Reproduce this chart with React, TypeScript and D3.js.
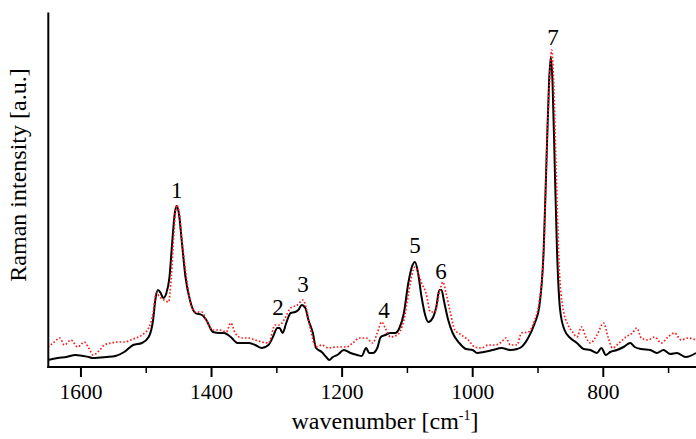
import React from "react";
import * as d3 from "d3";

// wavenumber [cm-1] and intensity [a.u.]
const blackWave = [1650.6,1635.7,1622.1,1608.5,1588.1,1581.3,1560.9,1547.3,1533.7,1520.1,1506.5,1496.3,1489.5,1486.1,1482.0,1477.9,1473.9,1469.1,1464.4,1460.3,1456.2,1453.5,1450.1,1445.3,1439.9,1433.1,1424.9,1414.8,1408.0,1397.8,1387.6,1380.8,1370.6,1360.3,1343.4,1333.2,1323.0,1312.8,1306.0,1299.2,1295.8,1291.0,1285.6,1278.8,1272.0,1267.2,1261.8,1256.3,1251.6,1244.8,1240.0,1231.2,1224.4,1219.7,1214.2,1207.4,1197.2,1187.0,1176.8,1170.0,1163.2,1158.5,1153.0,1146.2,1140.8,1134.0,1125.8,1119.0,1112.2,1105.4,1098.6,1093.2,1088.4,1083.7,1078.3,1072.8,1068.1,1061.3,1055.8,1051.1,1047.7,1044.3,1037.5,1030.7,1020.5,1010.3,1000.1,993.3,983.1,969.4,955.9,942.3,932.1,925.3,915.1,904.9,898.1,891.3,886.5,883.1,880.4,877.7,874.3,870.9,866.1,859.4,850.5,840.3,830.1,819.9,809.7,802.9,796.1,789.4,779.1,768.9,758.7,751.9,741.8,728.1,718.0,707.8,697.5,687.4,673.8,658.1];
const blackInt = [7,9,10,12,10,9,10,11,15,22,24,30,47,67,77,74,69,74,90,124,154,161,154,124,90,67,54,52,47,35,34,34,30,24,24,22,19,22,30,39,39,34,44,54,55,57,62,59,47,34,19,15,10,7,10,12,17,14,12,11,19,14,14,19,30,32,34,34,39,54,84,100,105,94,70,52,45,49,60,77,77,67,47,34,24,18,17,14,15,17,19,17,18,20,29,44,60,117,217,284,310,284,200,117,57,37,29,24,18,17,14,19,12,15,17,20,24,20,18,17,14,17,13,14,10,14];

const redWave = [1650.6,1642.5,1632.3,1625.5,1615.3,1605.1,1594.9,1588.1,1581.3,1571.1,1564.3,1554.1,1543.9,1533.7,1520.1,1506.5,1496.3,1489.5,1484.8,1479.3,1472.5,1465.7,1461.7,1457.6,1453.5,1449.4,1445.3,1439.9,1433.1,1424.9,1414.8,1408.0,1397.8,1387.6,1377.4,1370.6,1363.8,1353.6,1343.4,1333.2,1323.0,1312.8,1302.6,1295.8,1289.0,1278.8,1268.6,1259.8,1255.0,1248.2,1240.0,1231.2,1221.0,1207.4,1193.8,1183.6,1173.4,1163.2,1153.0,1146.2,1139.4,1134.0,1125.8,1115.6,1105.4,1098.6,1093.2,1088.4,1083.7,1078.3,1071.5,1064.7,1057.9,1051.1,1045.6,1040.9,1034.1,1027.3,1017.1,1006.9,996.7,986.5,976.3,966.1,955.9,949.1,942.3,932.1,925.3,915.1,904.9,898.1,891.3,886.5,882.5,879.0,875.7,872.3,867.5,862.1,853.9,847.1,840.3,833.5,826.7,819.9,809.7,799.5,792.7,785.9,775.7,765.5,755.4,748.6,741.8,731.5,721.3,711.2,700.9,690.8,680.6,670.4,658.1];
const redInt = [20,24,29,22,27,20,25,19,12,17,22,24,25,25,28,32,39,54,74,70,67,65,90,134,162,154,127,97,67,55,55,47,37,37,35,44,34,29,29,27,25,24,42,42,47,59,62,67,59,37,20,22,19,20,20,24,29,29,24,34,45,39,30,32,47,72,92,100,94,84,74,55,55,74,85,74,54,37,32,27,20,19,22,22,25,29,22,22,34,35,47,65,114,217,284,317,280,200,100,60,42,35,30,40,30,24,32,44,30,19,24,30,34,39,29,27,30,24,30,34,27,29,27];

const peakLabels = ["1","2","3","4","5","6","7"];
const peakWave = [1453.4,1298.3,1260,1136,1088.4,1048.6,877];
const peakInt = [169,52,75,49,114,88,322];

const majorTicks = [1600,1400,1200,1000,800];
const minorTicks = [1500,1300,1100,900,700];

const W = 696, H = 439;
const left = 48.3, bottom = 367, top = 12.5;

export default function App() {
  const x = d3.scaleLinear().domain([1650, 658]).range([left, W]);
  const y = d3.scaleLinear().domain([0, 354.5]).range([bottom, top]);

  const blackData = blackWave.map((w, i) => [w, blackInt[i]] as [number, number]);
  const redData = redWave.map((w, i) => [w, redInt[i]] as [number, number]);
  const line = d3.line<[number, number]>()
    .x(d => x(d[0]))
    .y(d => y(d[1]))
    .curve(d3.curveMonotoneX);

  const font = "'Liberation Serif', 'Times New Roman', serif";

  return (
    <svg width={W} height={H} style={{ position: "absolute", left: 0, top: 0, background: "#fff" }}
      fontFamily={font}>
      <defs>
        <clipPath id="plot">
          <rect x={left} y={0} width={W - left} height={bottom} />
        </clipPath>
      </defs>
      <g clipPath="url(#plot)">
        <path d={line(blackData) || ""} fill="none" stroke="#000" strokeWidth={2} strokeLinejoin="round" />
        <path d={line(redData) || ""} fill="none" stroke="#ff1a1a" strokeWidth={1.7} strokeDasharray="1.6 2" />
      </g>
      {/* axes */}
      <line x1={left} x2={left} y1={top} y2={bottom + 1} stroke="#000" strokeWidth={2} />
      <line x1={left - 1} x2={W} y1={bottom} y2={bottom} stroke="#000" strokeWidth={2} />
      {majorTicks.map(t => (
        <g key={t}>
          <line x1={x(t)} x2={x(t)} y1={bottom} y2={bottom + 10} stroke="#000" strokeWidth={2} />
          <text x={x(t)} y={399} textAnchor="middle" fontSize={21.5}>{t}</text>
        </g>
      ))}
      {minorTicks.map(t => (
        <line key={t} x1={x(t)} x2={x(t)} y1={bottom} y2={bottom + 6} stroke="#000" strokeWidth={1.5} />
      ))}
      {peakLabels.map((p, i) => (
        <text key={p} x={x(peakWave[i])} y={y(peakInt[i])} textAnchor="middle" fontSize={23}>{p}</text>
      ))}
      <text x={385} y={429} textAnchor="middle" fontSize={24}>
        wavenumber [cm<tspan fontSize={14} dy={-9}>-1</tspan><tspan dy={9}>]</tspan>
      </text>
      <text transform="translate(26,175) rotate(-90)" textAnchor="middle" fontSize={24}>
        Raman intensity [a.u.]
      </text>
    </svg>
  );
}
